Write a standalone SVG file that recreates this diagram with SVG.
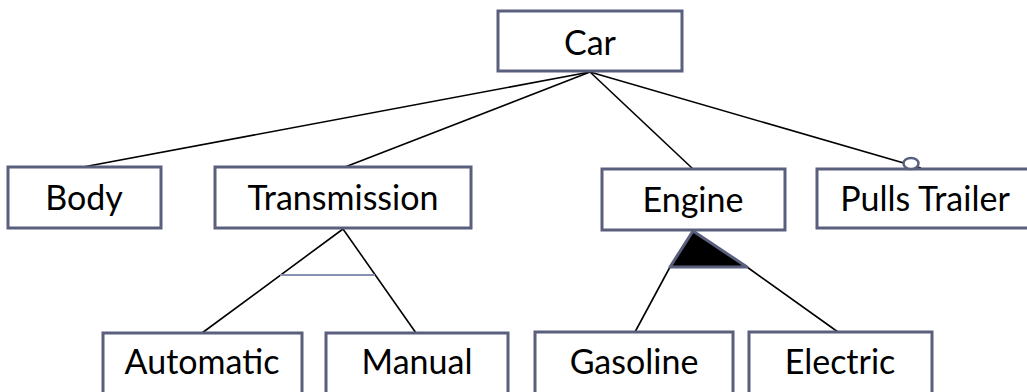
<svg xmlns="http://www.w3.org/2000/svg" width="1027" height="392" viewBox="0 0 1027 392">
  <style>
    .box { fill: #ffffff; stroke: #5a5f7d; stroke-width: 3; }
    .label { font-family: "Lato", "Liberation Sans", sans-serif; font-size: 34px; fill: #000000; text-anchor: middle; }
    .edge { stroke: #000000; stroke-width: 1.6; fill: none; }
  </style>
  <rect width="1027" height="392" fill="#ffffff"/>

  <!-- connectors -->
  <g id="connectors">
    <line class="edge" x1="590" y1="72" x2="83" y2="167"/>
    <line class="edge" x1="590" y1="72" x2="345" y2="167"/>
    <line class="edge" x1="590" y1="72" x2="693" y2="169"/>
    <line class="edge" x1="590" y1="72" x2="921" y2="168"/>
    <!-- transmission alternatives -->
    <line class="edge" x1="343" y1="229" x2="202" y2="333"/>
    <line class="edge" x1="343" y1="229" x2="416" y2="333"/>
    <line x1="280" y1="275" x2="375" y2="275" stroke="#8a91b0" stroke-width="2"/>
    <!-- engine or-group -->
    <line class="edge" x1="670" y1="267" x2="635" y2="332"/>
    <line class="edge" x1="747" y1="267" x2="838" y2="332"/>
    <polygon points="693,231 670,267 747,267" fill="#000000" stroke="#5a5f7d" stroke-width="3" stroke-linejoin="round"/>
  </g>

  <g id="car">
    <rect class="box" x="498" y="11" width="184" height="60"/>
    <text class="label" x="590" y="55">Car</text>
  </g>
  <g id="body">
    <rect class="box" x="8" y="167" width="153" height="61"/>
    <text class="label" x="84" y="210">Body</text>
  </g>
  <g id="transmission">
    <rect class="box" x="215" y="167" width="256" height="61"/>
    <text class="label" x="343" y="210">Transmission</text>
  </g>
  <g id="engine">
    <rect class="box" x="602" y="169" width="183" height="61"/>
    <text class="label" x="693" y="212">Engine</text>
  </g>
  <g id="pulls-trailer">
    <rect class="box" x="817" y="169" width="230" height="59"/>
    <text class="label" x="925" y="211">Pulls Trailer</text>
    <!-- optional-feature marker -->
    <ellipse cx="911" cy="163.5" rx="7.5" ry="5.5" fill="#ffffff" stroke="#5a5f7d" stroke-width="2.5"/>
  </g>
  <g id="automatic">
    <rect class="box" x="103" y="333" width="199" height="70"/>
    <text class="label" x="202" y="374">Automatic</text>
  </g>
  <g id="manual">
    <rect class="box" x="326" y="333" width="182" height="70"/>
    <text class="label" x="417" y="374">Manual</text>
  </g>
  <g id="gasoline">
    <rect class="box" x="535" y="332" width="198" height="70"/>
    <text class="label" x="634" y="374">Gasoline</text>
  </g>
  <g id="electric">
    <rect class="box" x="749" y="332" width="183" height="70"/>
    <text class="label" x="840" y="374">Electric</text>
  </g>
</svg>
